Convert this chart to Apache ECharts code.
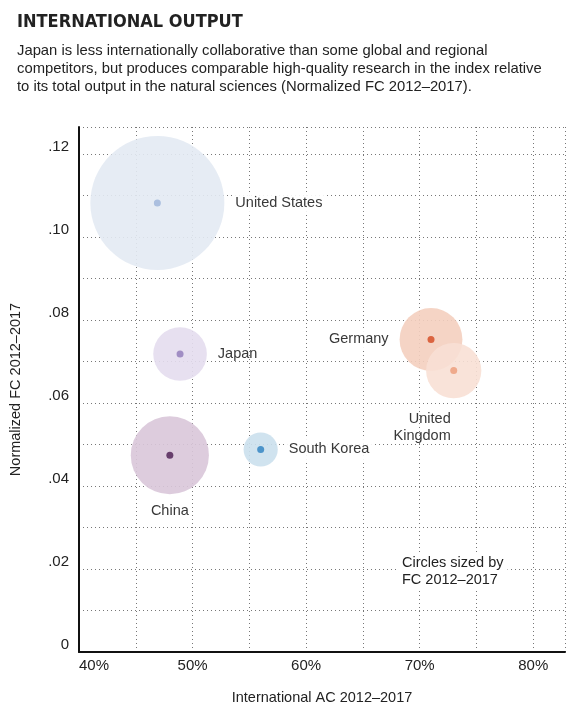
<!DOCTYPE html>
<html><head><meta charset="utf-8">
<script src="https://cdn.jsdelivr.net/npm/echarts@6/dist/echarts.min.js"></script>
<style>html,body{margin:0;padding:0;background:#fff}#c{width:580px;height:711px}</style>
</head><body><div id="c"></div>
<script>
const countries = ['United States','Japan','China','South Korea','Germany','United Kingdom'];
const intlAC = [46.9, 48.9, 48.0, 56.0, 71.0, 73.0];
const normFC = [0.1082, 0.0718, 0.0474, 0.0488, 0.0753, 0.0678];
const fcSize = [100, 16, 34, 6.5, 22, 17];
const bubbleColors = ['#e3eaf3','#e4ddee','#d9c7d9','#cbe0ed','#f4cfbf','#f8e0d5'];
const dotColors = ['#9cb4da','#9079b9','#4a1a50','#2b7fc0','#d4481f','#ec9b78'];
const labelPos = ['right','right','bottom','right','left','bottom'];
const labelText = ['United States','Japan','China','South Korea','Germany','United\nKingdom'];

const font = 'Liberation Sans, Arial, sans-serif';
const bubbles = countries.map((c,i)=>({
  value:[intlAC[i], normFC[i], fcSize[i]],
  itemStyle:{color:bubbleColors[i], opacity:0.9},
  label:{show:true, formatter:labelText[i], position:labelPos[i], distance: i===2?6:(i===5?10:8),
    color:'#222', fontFamily:font, fontSize:14.5, lineHeight:17, align: i===5?'right':undefined,
    backgroundColor: (i===0||i===3||i===4)?'#fff':'transparent', padding:[2,3]}
}));
const dots = countries.map((c,i)=>({value:[intlAC[i], normFC[i]], itemStyle:{color:dotColors[i]}}));

const chart = echarts.init(document.getElementById('c'));
chart.setOption({
  animation:false,
  grid:{left:77, right:15, top:127, bottom:59},
  title:[
    {text:'INTERNATIONAL OUTPUT', left:12, top:8, textStyle:{fontFamily:'DejaVu Sans Condensed, DejaVu Sans', fontWeight:'bold', fontSize:18, color:'#222'}},
    {text:'Japan is less internationally collaborative than some global and regional\ncompetitors, but produces comparable high-quality research in the index relative\nto its total output in the natural sciences (Normalized FC 2012–2017).',
     left:12, top:37, textStyle:{fontFamily:font, fontWeight:'normal', fontSize:14.8, lineHeight:18, color:'#222'}}
  ],
  xAxis:{type:'value', min:40, max:82.8, interval:5,
    name:'International AC 2012–2017', nameLocation:'middle', nameGap:38,
    nameTextStyle:{fontFamily:font, fontSize:14.5, color:'#222'},
    axisLine:{lineStyle:{color:'#111', width:2}}, axisTick:{show:false},
    axisLabel:{formatter:v=>v%10===0?v+'%':'', alignMinLabel:'left', fontFamily:font, fontSize:15, color:'#222', margin:6, showMaxLabel:false},
    splitLine:{show:true, lineStyle:{type:[1,3], color:'#777', width:1}}},
  yAxis:{type:'value', min:0, max:0.1265, interval:0.01,
    name:'Normalized FC 2012–2017', nameLocation:'middle', nameGap:56,
    nameTextStyle:{fontFamily:font, fontSize:14.5, color:'#222'},
    axisLine:{show:true, lineStyle:{color:'#111', width:2}}, axisTick:{show:false},
    axisLabel:{formatter:v=>{const k=Math.round(v*100); if(k%2) return ''; return k===0?'0':'.'+String(k).padStart(2,'0');}, fontFamily:font, fontSize:15, color:'#222', margin:10, showMaxLabel:false, verticalAlign:'bottom'},
    splitLine:{show:true, lineStyle:{type:[1,3], color:'#777', width:1}}},
  series:[
    {type:'scatter', data:bubbles, symbolSize:v=>134*Math.sqrt(v[2]/100), z:2},
    {type:'scatter', data:dots, symbolSize:7, z:3, silent:true}
  ],
  graphic:[{type:'text', left:398, top:552, z:10, style:{text:'Circles sized by\nFC 2012–2017', font:'14.5px '+font, lineHeight:17, fill:'#222', backgroundColor:'#fff', padding:[2,4]}}]
});
</script></body></html>
